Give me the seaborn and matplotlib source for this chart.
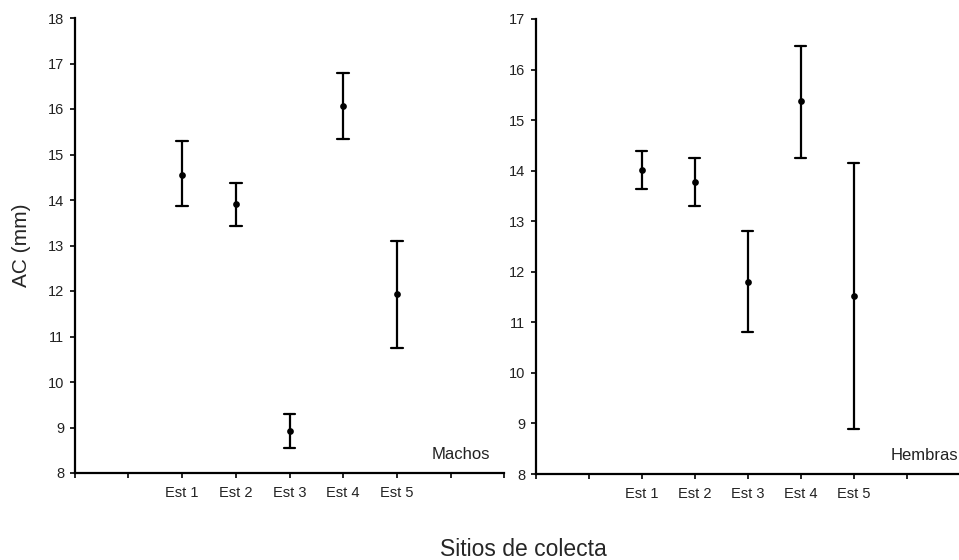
import pandas as pd
import matplotlib.pyplot as plt
import seaborn as sns

sites = ["Est 1", "Est 2", "Est 3", "Est 4", "Est 5"]

# Machos: mean, lower and upper ends of the bars
machos_mean = [14.56, 13.91, 8.92, 16.07, 11.93]
machos_low = [13.86, 13.43, 8.55, 15.34, 10.75]
machos_high = [15.29, 14.37, 9.30, 16.80, 13.10]

# Hembras
hembras_mean = [14.01, 13.77, 11.79, 15.37, 11.53]
hembras_low = [13.64, 13.30, 10.81, 14.26, 8.89]
hembras_high = [14.39, 14.25, 12.80, 16.46, 14.15]


def long_table(mean, low, high):
    rows = []
    for s, m, lo, hi in zip(sites, mean, low, high):
        for v in (lo, m, hi):
            rows.append({"Sitio": s, "AC": v})
    return pd.DataFrame(rows)


sns.set_style("white")
plt.rcParams["font.family"] = ["Liberation Sans", "DejaVu Sans"]

fig = plt.figure(figsize=(9.59, 5.6), dpi=100)
ax1 = fig.add_axes([74.5 / 959, 1 - 473 / 560, 430 / 959, 455 / 560])
ax2 = fig.add_axes([535.5 / 959, 1 - 474 / 560, 424 / 959, 455 / 560])

panels = [
    (ax1, long_table(machos_mean, machos_low, machos_high), (8, 18), "Machos"),
    (ax2, long_table(hembras_mean, hembras_low, hembras_high), (8, 17), "Hembras"),
]

for ax, df, ylim, label in panels:
    sns.pointplot(data=df, x="Sitio", y="AC", order=sites, estimator="median",
                  errorbar=lambda v: (v.min(), v.max()), color="black",
                  linestyle="none", markersize=2.8, capsize=0.22,
                  err_kws={"linewidth": 1.6}, ax=ax)
    ax.set_xlim(-2, 6)
    ax.set_xticks(range(-2, 7))
    ax.set_xticklabels([""] * 2 + sites + [""] * 2)
    ax.set_ylim(*ylim)
    ax.set_yticks(range(ylim[0], ylim[1] + 1))
    ax.set_xlabel("")
    ax.set_ylabel("")
    for side in ["top", "right"]:
        ax.spines[side].set_visible(False)
    for side in ["left", "bottom"]:
        ax.spines[side].set_linewidth(1.6)
        ax.spines[side].set_color("black")
    ax.tick_params(axis="both", direction="out", length=3.5, width=1.2,
                   bottom=True, left=True, color="black", labelsize=10.5,
                   labelcolor="#222222")
    ax.tick_params(axis="x", pad=6)
    ax.tick_params(axis="y", pad=4)
    ax.grid(False)

ax1.text(0.966, 0.025, "Machos", transform=ax1.transAxes, ha="right",
         va="bottom", fontsize=12, color="#222222")
ax2.text(0.838, 0.025, "Hembras", transform=ax2.transAxes, ha="left",
         va="bottom", fontsize=12, color="#222222", clip_on=False)

ax1.set_ylabel("AC (mm)", fontsize=15, labelpad=12)
fig.text(523 / 959, 1 - 549 / 560, "Sitios de colecta", ha="center",
         va="center", fontsize=16.5)

fig.savefig("out.png", dpi=100)
